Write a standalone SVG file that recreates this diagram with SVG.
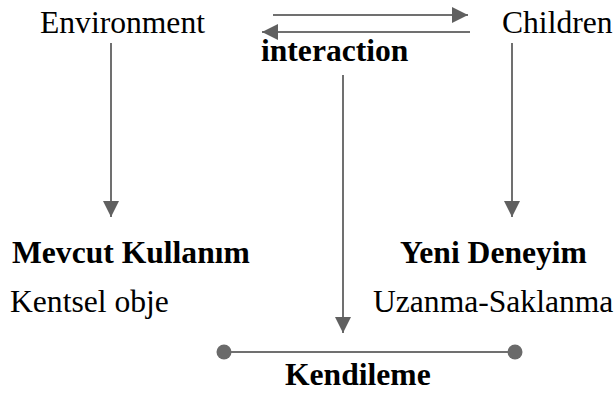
<svg xmlns="http://www.w3.org/2000/svg" width="616" height="394" viewBox="0 0 616 394">
<style>
.t{font-family:"Liberation Serif","Times New Roman",serif;font-size:31.6px;fill:#000}
.b{font-weight:bold}
.ln{stroke:#707070;stroke-width:2;fill:none}
.dot{fill:#6a6a6a}
</style>
<defs>
<marker id="ah" viewBox="0 0 16 16" refX="16" refY="8" markerWidth="16" markerHeight="16" markerUnits="userSpaceOnUse" orient="auto">
<path d="M0,0 L16,8 L0,16 Z" fill="#606060"/>
</marker>
</defs>
<rect width="616" height="394" fill="#fff"/>
<g id="connectors">
<line class="ln" x1="273" y1="15" x2="468" y2="15" marker-end="url(#ah)"/>
<line class="ln" x1="470" y1="32" x2="262" y2="32" marker-end="url(#ah)"/>
<line class="ln" x1="111" y1="43" x2="111" y2="217" marker-end="url(#ah)"/>
<line class="ln" x1="512" y1="43" x2="512" y2="217" marker-end="url(#ah)"/>
<line class="ln" x1="343" y1="75" x2="343" y2="333" marker-end="url(#ah)"/>
<line class="ln" x1="224" y1="352" x2="515" y2="352"/>
<circle class="dot" cx="224" cy="352" r="7.5"/>
<circle class="dot" cx="515" cy="352" r="7.5"/>
</g>
<g id="environment"><text class="t" x="40" y="33">Environment</text></g>
<g id="children"><text class="t" x="502" y="33">Children</text></g>
<g id="interaction"><text class="t b" x="261" y="61">interaction</text></g>
<g id="mevcut"><text class="t b" x="12" y="263">Mevcut Kullanım</text><text class="t" x="10" y="312">Kentsel obje</text></g>
<g id="yeni"><text class="t b" x="400" y="263">Yeni Deneyim</text><text class="t" x="373" y="312">Uzanma-Saklanma</text></g>
<g id="kendileme"><text class="t b" x="285" y="385">Kendileme</text></g>
</svg>
